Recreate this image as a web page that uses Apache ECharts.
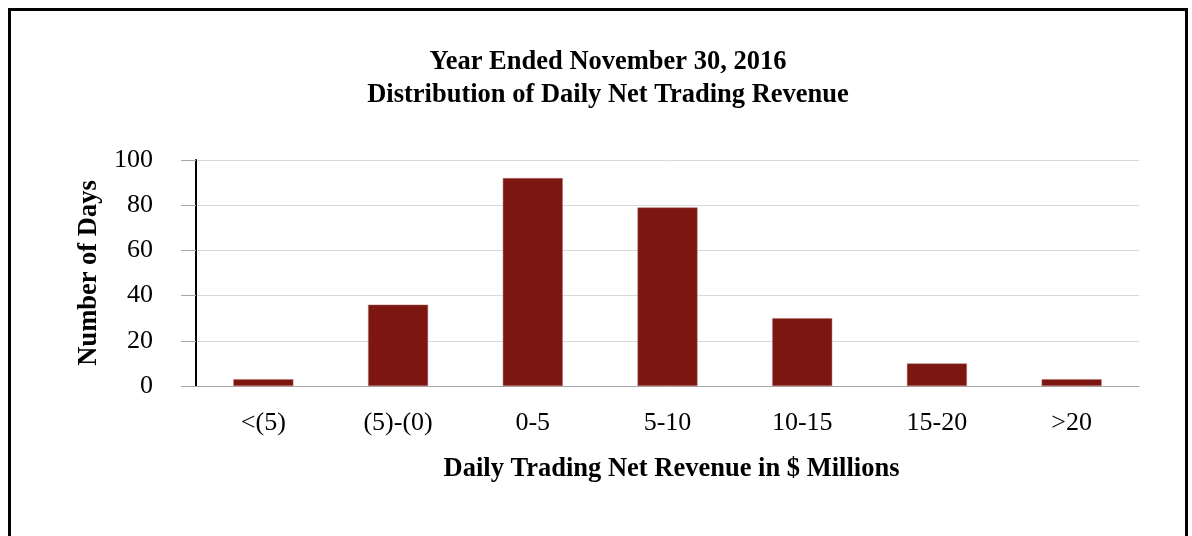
<!DOCTYPE html>
<html>
<head>
<meta charset="utf-8">
<script src="https://cdn.jsdelivr.net/npm/echarts@6/dist/echarts.min.js"></script>
<style>
html,body{margin:0;padding:0;background:#fff;}
#main{width:1192px;height:536px;}
</style>
</head>
<body>
<div id="main"></div>
<script>
var categories = ['<(5)', '(5)-(0)', '0-5', '5-10', '10-15', '15-20', '>20'];
var dayCounts = [3, 36, 92, 79, 30, 10, 3];
var yTicks = [0, 20, 40, 60, 80, 100];

var serif = '"Liberation Serif", "Times New Roman", serif';
var myChart = echarts.init(document.getElementById('main'));

var option = {
  backgroundColor: '#fff',
  animation: false,
  title: {
    text: 'Year Ended November 30, 2016\nDistribution of Daily Net Trading Revenue',
    left: 603,
    textAlign: 'center',
    top: 41,
    textStyle: {
      fontFamily: serif,
      fontWeight: 'bold',
      fontSize: 26.5,
      lineHeight: 33,
      color: '#000'
    }
  },
  graphic: [{
    type: 'rect',
    shape: {x: 9.5, y: 9.5, width: 1177, height: 600},
    style: {fill: 'none', stroke: '#000', lineWidth: 3},
    silent: true
  }],
  grid: {
    left: 196,
    right: 53,
    top: 160,
    bottom: 150,
    containLabel: false
  },
  xAxis: {
    type: 'category',
    data: categories,
    name: 'Daily Trading Net Revenue in $ Millions',
    nameLocation: 'middle',
    nameGap: 70,
    nameTextStyle: {
      fontFamily: serif,
      fontWeight: 'bold',
      fontSize: 26.5,
      color: '#000',
      padding: [0, 0, 0, 8]
    },
    axisLine: {lineStyle: {color: '#a6a6a6', width: 1}},
    axisTick: {show: false},
    axisLabel: {
      fontFamily: serif,
      fontSize: 26,
      color: '#000',
      margin: 24
    }
  },
  yAxis: {
    type: 'value',
    min: 0,
    max: 100,
    interval: 20,
    name: 'Number of Days',
    nameLocation: 'middle',
    nameGap: 93,
    nameRotate: 90,
    nameTextStyle: {
      fontFamily: serif,
      fontWeight: 'bold',
      fontSize: 26.5,
      color: '#000'
    },
    axisLine: {show: true, lineStyle: {color: '#000', width: 2}},
    axisTick: {show: true, length: 15, lineStyle: {color: '#a6a6a6'}},
    splitLine: {lineStyle: {color: '#d9d9d9', width: 1}},
    axisLabel: {
      fontFamily: serif,
      fontSize: 26,
      color: '#000',
      margin: 43,
      formatter: function (v) { return yTicks.indexOf(v) >= 0 ? String(v) : ''; }
    }
  },
  series: [{
    type: 'bar',
    data: dayCounts,
    barWidth: 60,
    itemStyle: {color: '#7b1610', borderColor: '#b07570', borderWidth: 0.5}
  }]
};

myChart.setOption(option);
</script>
</body>
</html>
